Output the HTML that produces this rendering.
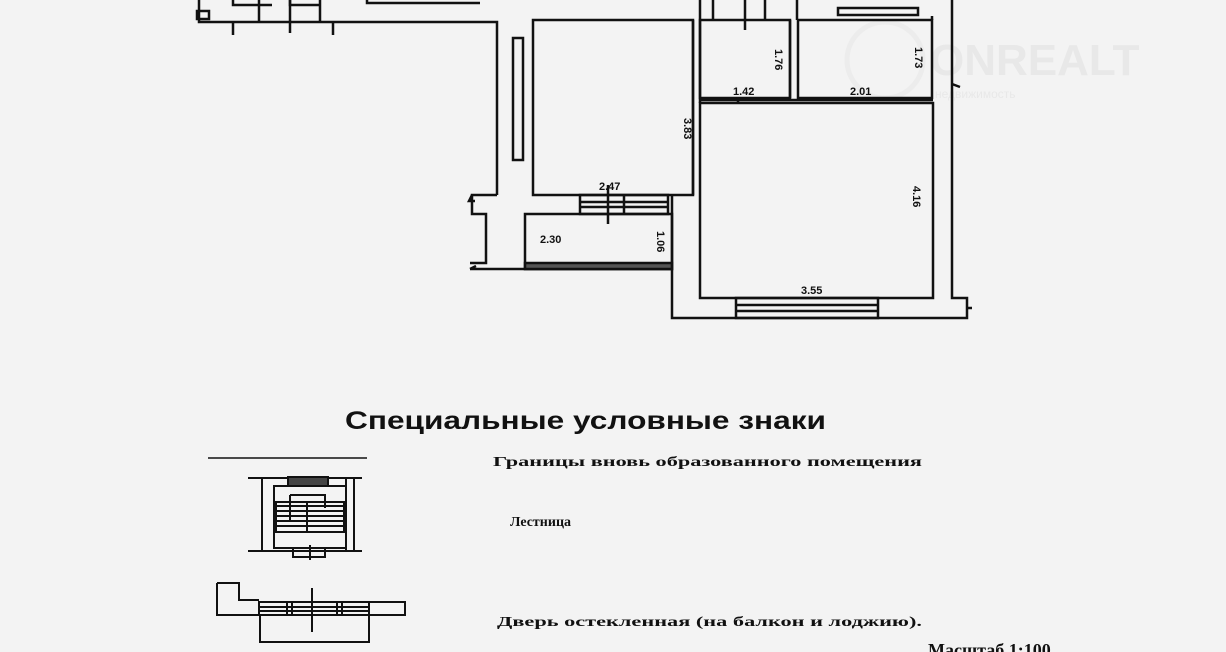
<!DOCTYPE html>
<html><head><meta charset="utf-8"><style>
html,body{margin:0;padding:0;background:#f3f3f3;}
svg{display:block}
text{font-family:"Liberation Serif",serif;font-weight:bold;fill:#111}
.d{font-family:"Liberation Sans",sans-serif;font-size:11px;font-weight:bold}
</style></head><body>
<svg width="1226" height="652" viewBox="0 0 1226 652" xmlns="http://www.w3.org/2000/svg">
<rect width="1226" height="652" fill="#f3f3f3"/>
<!-- watermark -->
<g opacity="0.5" fill="none" stroke="#e6e6e6" stroke-width="5">
<circle cx="885" cy="60" r="38"/>
</g>
<text x="930" y="75" style="font-family:'Liberation Sans',sans-serif;font-size:44px;fill:#e8e8e8" >ONREALT</text>
<text x="935" y="98" style="font-family:'Liberation Sans',sans-serif;font-size:12px;fill:#e8e8e8;font-weight:normal">недвижимость</text>
<g fill="none" stroke="#111" stroke-width="2.5">
<!-- top-left structures -->
<path d="M199 0 V22 H497 V195"/>
<path d="M233 0 V5 H272 M290 0 V5 H320"/>
<line x1="259" y1="0" x2="259" y2="22"/><line x1="290" y1="0" x2="290" y2="33"/><line x1="320" y1="0" x2="320" y2="22"/>
<path d="M233 22 V35 M333 22 V35"/>
<rect x="197" y="11" width="12" height="8"/>
<path d="M367 0 V3 H480"/>
<rect x="513" y="38" width="10" height="122"/>
<!-- left corridor -->
<path d="M497 195 H472 V214 H486 V263 H470"/>
<path d="M470 269 H672"/>
<path d="M472 195 l-3 6 l6 0 M470 269 l6 -3"/>
<!-- room A -->
<rect x="533" y="20" width="160" height="175"/>
<path d="M700 20 V103"/>
<!-- door / stairs -->
<rect x="580" y="195" width="88" height="19"/>
<path d="M580 202 H668 M580 207 H668 M624 195 V214 M608 185 V224"/>
<!-- room 2.30 -->
<rect x="525" y="214" width="147" height="55"/>
<rect x="525" y="263" width="147" height="6" fill="#555"/>
<!-- outer middle -->
<path d="M672 195 V318 H967 V298 H952 V0"/>
<path d="M952 84 l8 3 M967 308 l5 0"/>
<!-- small rooms -->
<rect x="700" y="20" width="90" height="78"/>
<rect x="798" y="20" width="134" height="78"/>
<path d="M693 20 V195 M790 20 V98"/>
<path d="M700 0 V20 M713 0 V20 M745 0 V30 M765 0 V20 M797 0 V20"/>
<rect x="838" y="8" width="80" height="7"/>
<path d="M932 16 V20"/>
<!-- big room -->
<rect x="700" y="103" width="233" height="195"/>
<path d="M700 100 H933 M738 98 V104"/>
<!-- balcony door -->
<rect x="736" y="298" width="142" height="20"/>
<path d="M736 305 H878 M736 311 H878"/>
</g>
<text class="d" x="599" y="190">2.47</text>
<text class="d" x="540" y="243">2.30</text>
<text class="d" x="733" y="95">1.42</text>
<text class="d" x="850" y="95">2.01</text>
<text class="d" x="801" y="294">3.55</text>
<text class="d" transform="translate(684,118) rotate(90)">3.83</text>
<text class="d" transform="translate(657,231) rotate(90)">1.06</text>
<text class="d" transform="translate(775,49) rotate(90)">1.76</text>
<text class="d" transform="translate(915,47) rotate(90)">1.73</text>
<text class="d" transform="translate(913,186) rotate(90)">4.16</text>

<!-- legend -->
<text x="345" y="429" font-size="25" textLength="481" lengthAdjust="spacingAndGlyphs" style="font-family:'Liberation Sans',sans-serif">Специальные условные знаки</text>
<line x1="208" y1="458" x2="367" y2="458" stroke="#111" stroke-width="1.5"/>
<text x="493" y="466" font-size="14" textLength="429" lengthAdjust="spacingAndGlyphs">Границы вновь образованного помещения</text>
<text x="510" y="526" font-size="14">Лестница</text>
<text x="497" y="626" font-size="14" textLength="425" lengthAdjust="spacingAndGlyphs">Дверь остекленная (на балкон и лоджию).</text>
<text x="928" y="656" font-size="18">Масштаб 1:100</text>

<g fill="none" stroke="#111" stroke-width="2">
<path d="M248 478 H362 M248 551 H362"/>
<path d="M262 478 V551 M274 486 V548 M346 478 V551 M354 478 V551"/>
<rect x="274" y="486" width="72" height="62"/>
<rect x="288" y="477" width="40" height="9" fill="#444"/>
<rect x="276" y="502" width="68" height="30" fill="none"/>
<path d="M276 506 H344 M276 511 H344 M276 516 H344 M276 521 H344 M276 526 H344 M307 502 V533 M290 495 V520 M290 495 H325 V508"/>
<path d="M293 548 V557 H325 V548 M310 545 V560"/>
<path d="M217 583 H239 V600 H259 M217 583 V615 H259 M398 602 H405 M398 615 H405"/>
<rect x="259" y="602" width="110" height="13"/>
<path d="M259 607 H369 M259 611 H369 M287 602 V615 M292 602 V615 M337 602 V615 M342 602 V615"/>
<path d="M369 602 H405 V615 H369 M312 588 V632"/>
<rect x="260" y="615" width="109" height="27"/>
</g>
</svg>
</body></html>
